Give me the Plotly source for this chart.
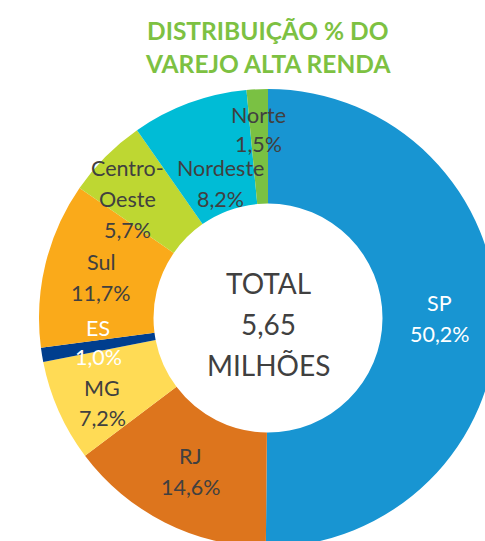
import math
import plotly.graph_objects as go

# ---- data ----
regions = ["SP", "RJ", "MG", "ES", "Sul", "Centro-Oeste", "Nordeste", "Norte"]
shares = [50.2, 14.6, 7.2, 1.0, 11.7, 5.7, 8.2, 1.5]
label_lines = [["SP"], ["RJ"], ["MG"], ["ES"], ["Sul"], ["Centro-", "Oeste"], ["Nordeste"], ["Norte"]]
title_lines = ["DISTRIBUIÇÃO % DO", "VAREJO ALTA RENDA"]
center_lines = ["TOTAL", "5,65", "MILHÕES"]

# ---- style ----
colors = ["#1895D2", "#DD751D", "#FFDB55", "#003E8E", "#FAAA1A", "#BED732", "#00BCD6", "#7AC143"]
text_colors = ["white", "#404040", "#404040", "white", "#404040", "#404040", "#404040", "#404040"]
nudges = {"MG": (-9, 15), "ES": (0, -3), "Centro-Oeste": (-19, 2), "Nordeste": (12, 27), "Norte": (-1, -17)}
line_gaps = {"Norte": 29, "ES": 29, "MG": 30}

W, H = 500, 550
cx, cy, R = 268, 318, 229
hole = 0.5
FONT = "Lato, 'Open Sans', sans-serif"

def px(x):
    return x / W

def py(y):
    return 1 - y / H

fig = go.Figure(go.Pie(
    labels=regions, values=shares, sort=False, direction="clockwise", rotation=0,
    hole=hole, marker=dict(colors=colors, line=dict(width=0)),
    textinfo="none", hoverinfo="label+percent", showlegend=False,
    domain=dict(x=[px(cx - R), px(cx + R)], y=[py(cy + R), py(cy - R)]),
))

ann = []
total = sum(shares)
cum = 0.0
rmid = R * (1 + hole) / 2
for name, v, lines, tc in zip(regions, shares, label_lines, text_colors):
    mid = (cum + v / 2) / total
    cum += v
    a = 2 * math.pi * mid
    x = cx + rmid * math.sin(a)
    y = cy - rmid * math.cos(a)
    dx, dy = nudges.get(name, (0, 0))
    x += dx
    y += dy
    gap = line_gaps.get(name, 31)
    all_lines = lines + [f"{v:.1f}%".replace(".", ",")]
    n = len(all_lines)
    for i, t in enumerate(all_lines):
        yy = y + (i - (n - 1) / 2) * gap
        ann.append(dict(x=px(x), y=py(yy), xref="paper", yref="paper", text=t,
                        showarrow=False, xanchor="center", yanchor="middle",
                        font=dict(family=FONT, size=21.5, color=tc)))

for i, t in enumerate(center_lines):
    yy = 283 + i * 41
    ann.append(dict(x=px(cx), y=py(yy), xref="paper", yref="paper", text=t,
                    showarrow=False, xanchor="center", yanchor="middle",
                    font=dict(family=FONT, size=28, color="#404040")))

for i, t in enumerate(title_lines):
    yy = 30 + i * 34
    ann.append(dict(x=px(cx), y=py(yy), xref="paper", yref="paper", text=f"<b>{t}</b>",
                    showarrow=False, xanchor="center", yanchor="middle",
                    font=dict(family=FONT, size=24.5, color="#7DC142")))

fig.update_layout(width=W, height=H, margin=dict(l=0, r=0, t=0, b=0),
                  paper_bgcolor="white", plot_bgcolor="white", annotations=ann)

fig.write_html("out.html", config={"displayModeBar": False},
               post_script="document.body.style.margin='0';document.body.style.overflow='hidden';")
